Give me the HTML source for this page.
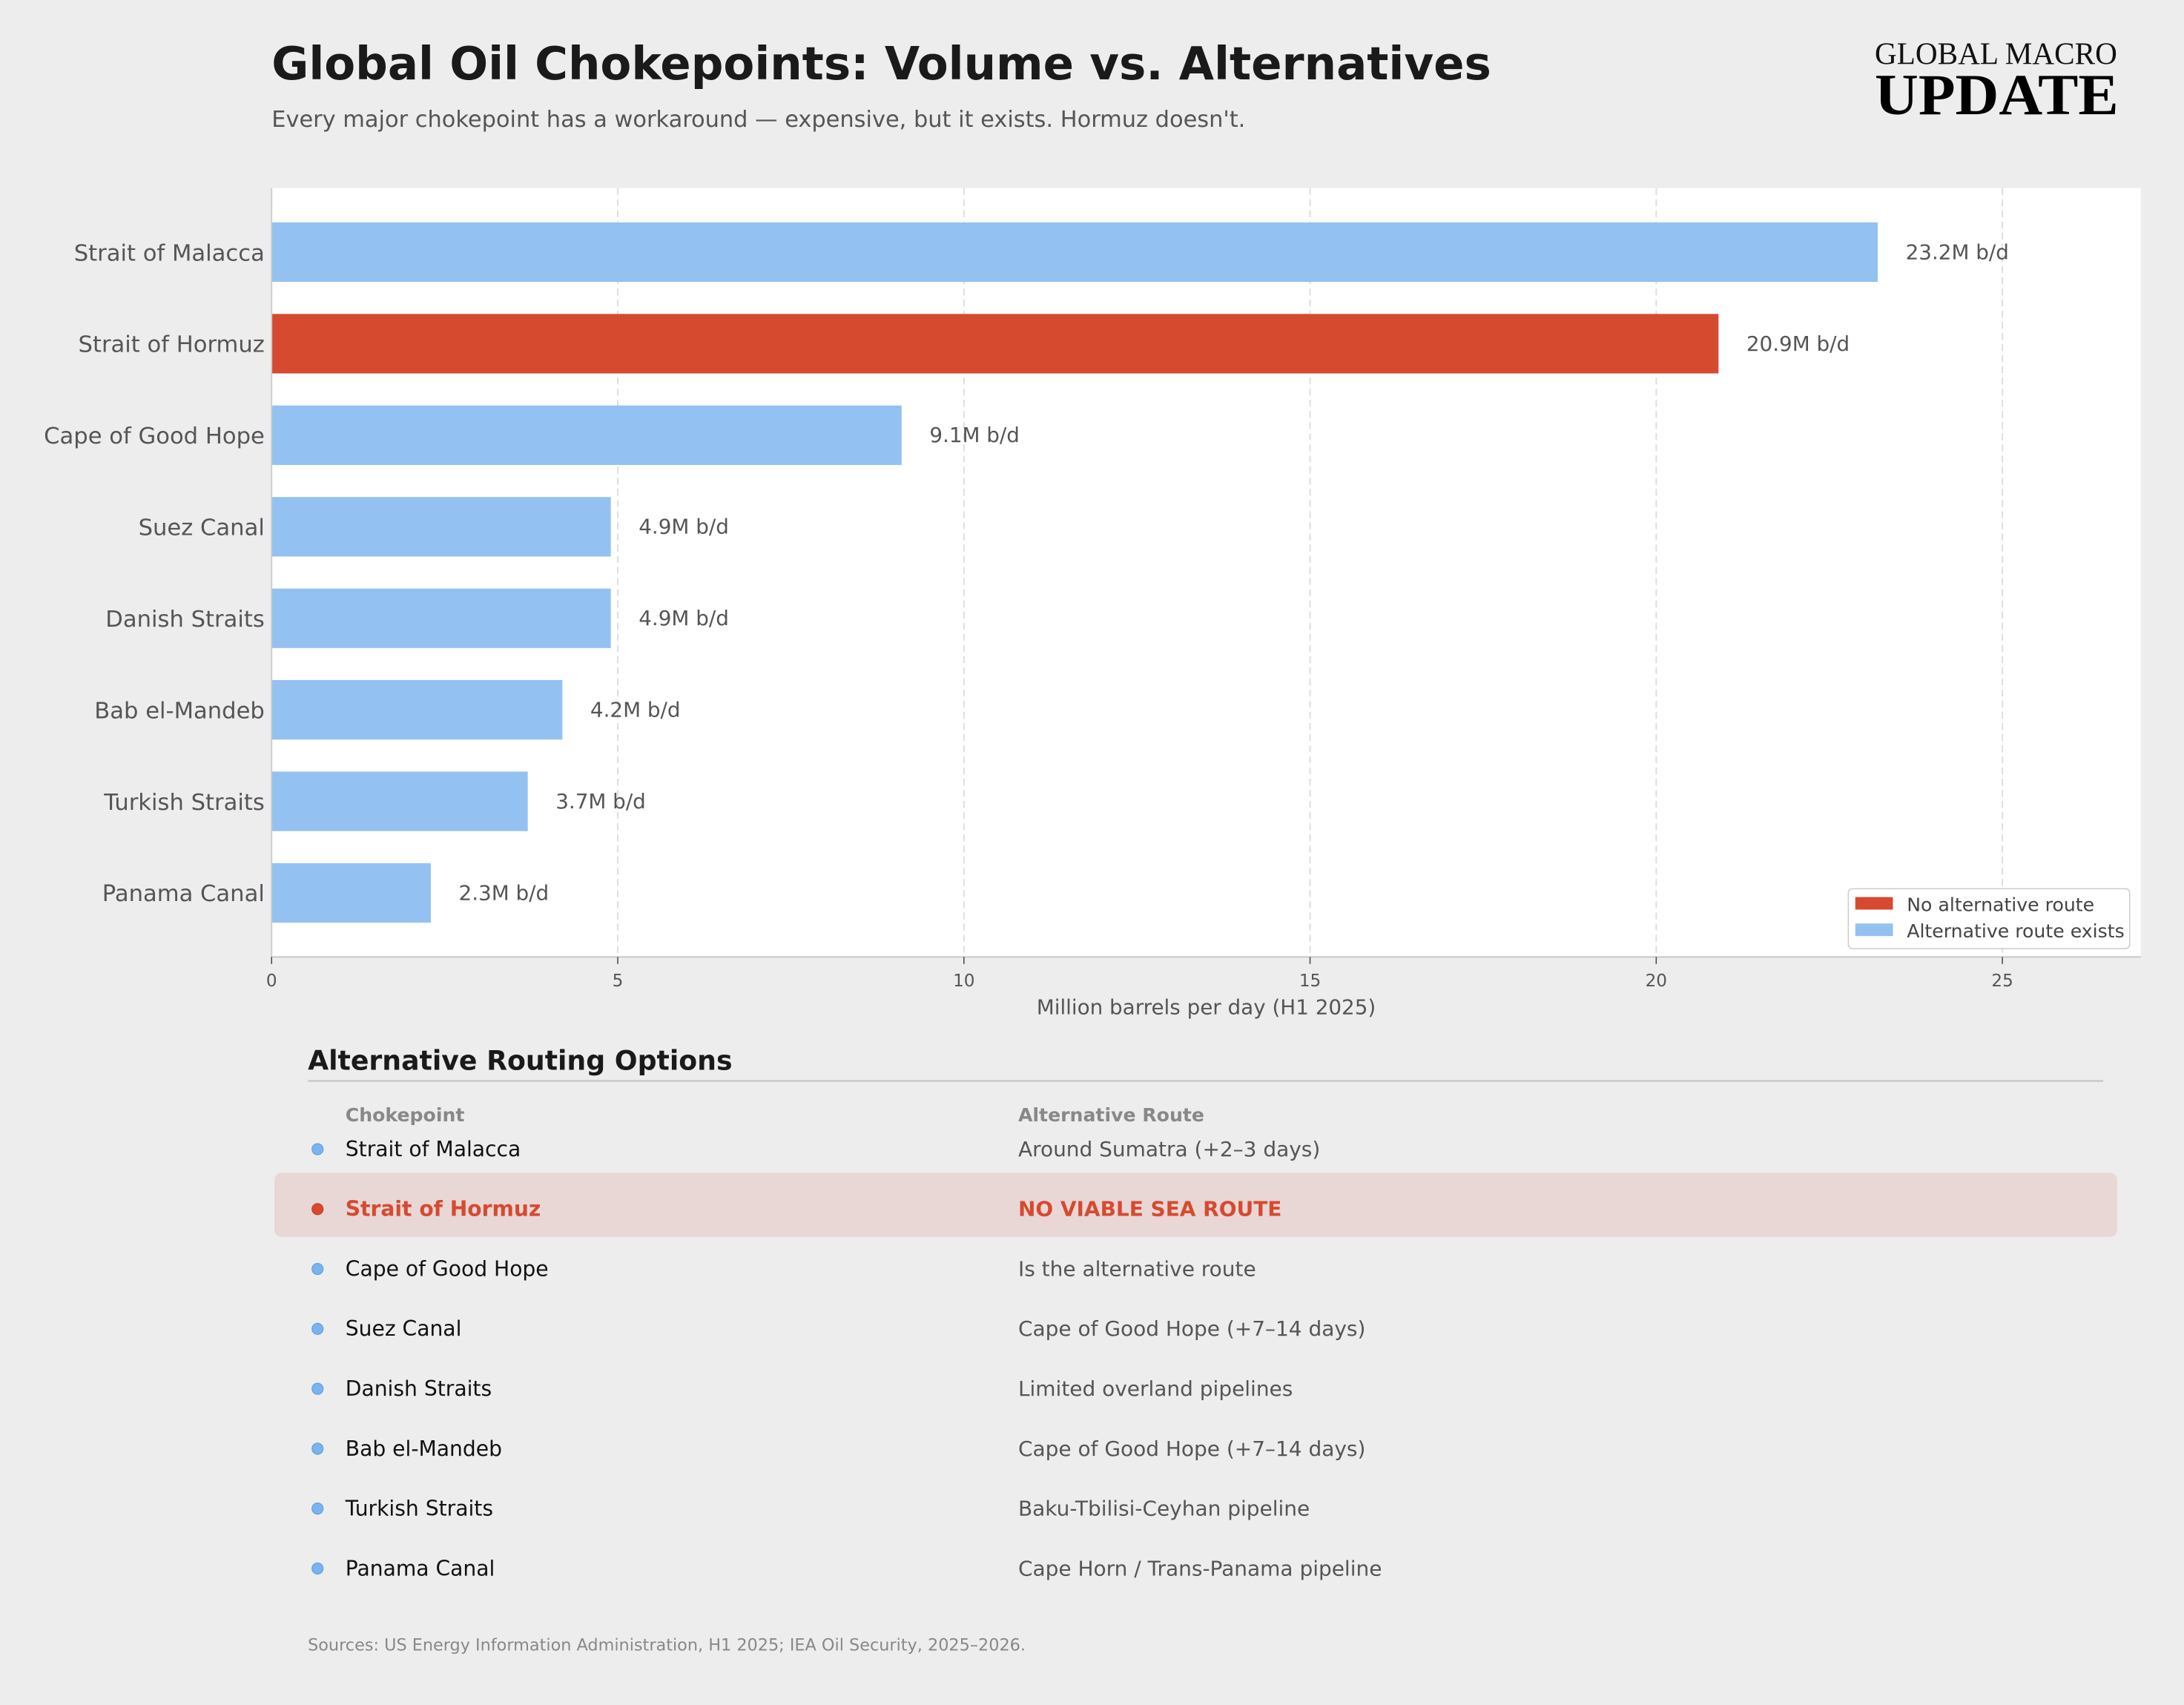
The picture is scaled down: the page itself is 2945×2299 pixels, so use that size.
<!DOCTYPE html>
<html><head><meta charset="utf-8"><style>
html,body{margin:0;padding:0;background:#ededed;}
svg{display:block;font-family:"DejaVu Sans","Liberation Sans",sans-serif;}
</style></head><body>
<svg id="chart" width="2945" height="2299" viewBox="0 0 1568 1224" xmlns="http://www.w3.org/2000/svg">
<rect x="0" y="0" width="1568" height="1224" fill="#ededed"/>
<text x="195" y="57" font-size="32.5" font-weight="bold" fill="#1a1a1a">Global Oil Chokepoints: Volume vs. Alternatives</text>
<text x="195" y="91" font-size="16.2" fill="#555">Every major chokepoint has a workaround — expensive, but it exists. Hormuz doesn't.</text>
<g>
<text x="1520" y="46" text-anchor="end" font-family="'Liberation Serif',serif" font-size="22.5" fill="#111" textLength="174" lengthAdjust="spacingAndGlyphs">GLOBAL MACRO</text>
<text x="1521" y="82" text-anchor="end" font-family="'Liberation Serif',serif" font-size="42" font-weight="bold" fill="#000" textLength="175" lengthAdjust="spacingAndGlyphs">UPDATE</text>
</g>
<rect x="195" y="135" width="1342" height="552" fill="#fff"/>
<g id="grid"></g>
<g id="bars"></g>
<line x1="195" y1="135" x2="195" y2="687" stroke="#ccc" stroke-width="1"/>
<line x1="195" y1="687" x2="1537" y2="687" stroke="#ccc" stroke-width="1.2"/>
<g id="xticks"></g>
<text x="866" y="728" text-anchor="middle" font-size="14.8" fill="#555">Million barrels per day (H1 2025)</text>
<g>
<rect x="1327" y="638" width="202" height="43" rx="3" fill="#fff" stroke="#ccc" stroke-width="0.8"/>
<rect x="1332" y="644" width="27" height="9" fill="#d64a30"/>
<text x="1369" y="654" font-size="13.4" fill="#444">No alternative route</text>
<rect x="1332" y="663" width="27" height="9" fill="#93c1f1"/>
<text x="1369" y="673" font-size="13.4" fill="#444">Alternative route exists</text>
</g>
<text x="221" y="768" font-size="19.3" font-weight="bold" fill="#1a1a1a">Alternative Routing Options</text>
<line x1="221" y1="776" x2="1510" y2="776" stroke="#ccc" stroke-width="1.5"/>
<text x="248" y="805" font-size="13.4" font-weight="bold" fill="#888">Chokepoint</text>
<text x="731" y="805" font-size="13.4" font-weight="bold" fill="#888">Alternative Route</text>
<g id="table"></g>
<text x="221" y="1185" font-size="11.9" fill="#888">Sources: US Energy Information Administration, H1 2025; IEA Oil Security, 2025–2026.</text>
<script>
const categories = ["Strait of Malacca","Strait of Hormuz","Cape of Good Hope","Suez Canal","Danish Straits","Bab el-Mandeb","Turkish Straits","Panama Canal"];
const volumes = [23.2, 20.9, 9.1, 4.9, 4.9, 4.2, 3.7, 2.3];
const noAlternative = [false, true, false, false, false, false, false, false];
const alternatives = ["Around Sumatra (+2–3 days)","NO VIABLE SEA ROUTE","Is the alternative route","Cape of Good Hope (+7–14 days)","Limited overland pipelines","Cape of Good Hope (+7–14 days)","Baku-Tbilisi-Ceyhan pipeline","Cape Horn / Trans-Panama pipeline"];
const xTicks = [0, 5, 10, 15, 20, 25];

const NS = "http://www.w3.org/2000/svg";
const X0 = 195, X1 = 1537, XMAX = 27;
const Y0 = 135, Y1 = 687, YMIN = -0.7, YMAX = 7.7;
function xs(v){ return X0 + (v / XMAX) * (X1 - X0); }
function ys(i){ return Y0 + ((i - YMIN) / (YMAX - YMIN)) * (Y1 - Y0); }
function mk(tag, attrs, parent, txt){
  const e = document.createElementNS(NS, tag);
  for (const k in attrs) e.setAttribute(k, attrs[k]);
  if (txt !== undefined) e.textContent = txt;
  parent.appendChild(e);
  return e;
}
const grid = document.getElementById('grid');
const xt = document.getElementById('xticks');
xTicks.forEach(t => {
  if (t > 0) {
    const g = mk('line', {x1: xs(t), x2: xs(t), y1: Y0, y2: Y1, stroke: '#ddd', 'stroke-width': 1, 'stroke-dasharray': '5,3'}, grid);
    
    
  }
  const tk = mk('line', {x1: xs(t), x2: xs(t), y1: Y1, y2: Y1 + 5, stroke: '#444', 'stroke-width': 0.8}, xt);
  
  
  const lb = mk('text', {x: xs(t), y: Y1 + 21, 'text-anchor': 'middle', 'font-size': 12.3, fill: '#555'}, xt, String(t));
  
  
});
const bars = document.getElementById('bars');
const BH = 0.65;
categories.forEach((c, i) => {
  const cy = ys(i), h = BH * (Y1 - Y0) / (YMAX - YMIN);
  const r = mk('rect', {x: xs(0), y: cy - h / 2, width: xs(volumes[i]) - xs(0), height: h, fill: noAlternative[i] ? '#d64a30' : '#93c1f1'}, bars);
  
  
  const v = mk('text', {x: xs(volumes[i]) + 20, y: cy + 5, 'font-size': 14.8, fill: '#555'}, bars, volumes[i].toFixed(1) + 'M b/d');
  
  
  const l = mk('text', {x: 190, y: cy + 6, 'text-anchor': 'end', 'font-size': 16.3, fill: '#555'}, bars, c);
  
  
});
const tb = document.getElementById('table');
categories.forEach((c, i) => {
  const cy = 825 + i * 43;
  const hi = noAlternative[i];
  if (hi) {
    const bg = mk('rect', {x: 197, y: cy - 26, width: 1323, height: 46, rx: 5, fill: '#e9d7d5'}, tb);
    
    
  }
  const d = mk('circle', {cx: 228, cy: cy, r: 4, fill: hi ? '#d64a30' : '#7db3ec', stroke: hi ? '#c03d25' : '#5c9de0', 'stroke-width': 0.6}, tb);
  
  
  const a = mk('text', {x: 248, y: cy + 5, 'font-size': 15, fill: hi ? '#d64a30' : '#111', 'font-weight': hi ? 'bold' : 'normal'}, tb, c);
  
  
  const b = mk('text', {x: 731, y: cy + 5, 'font-size': 14.9, fill: hi ? '#d64a30' : '#555', 'font-weight': hi ? 'bold' : 'normal'}, tb, alternatives[i]);
  
  
});
</script>
</svg>
</body></html>
